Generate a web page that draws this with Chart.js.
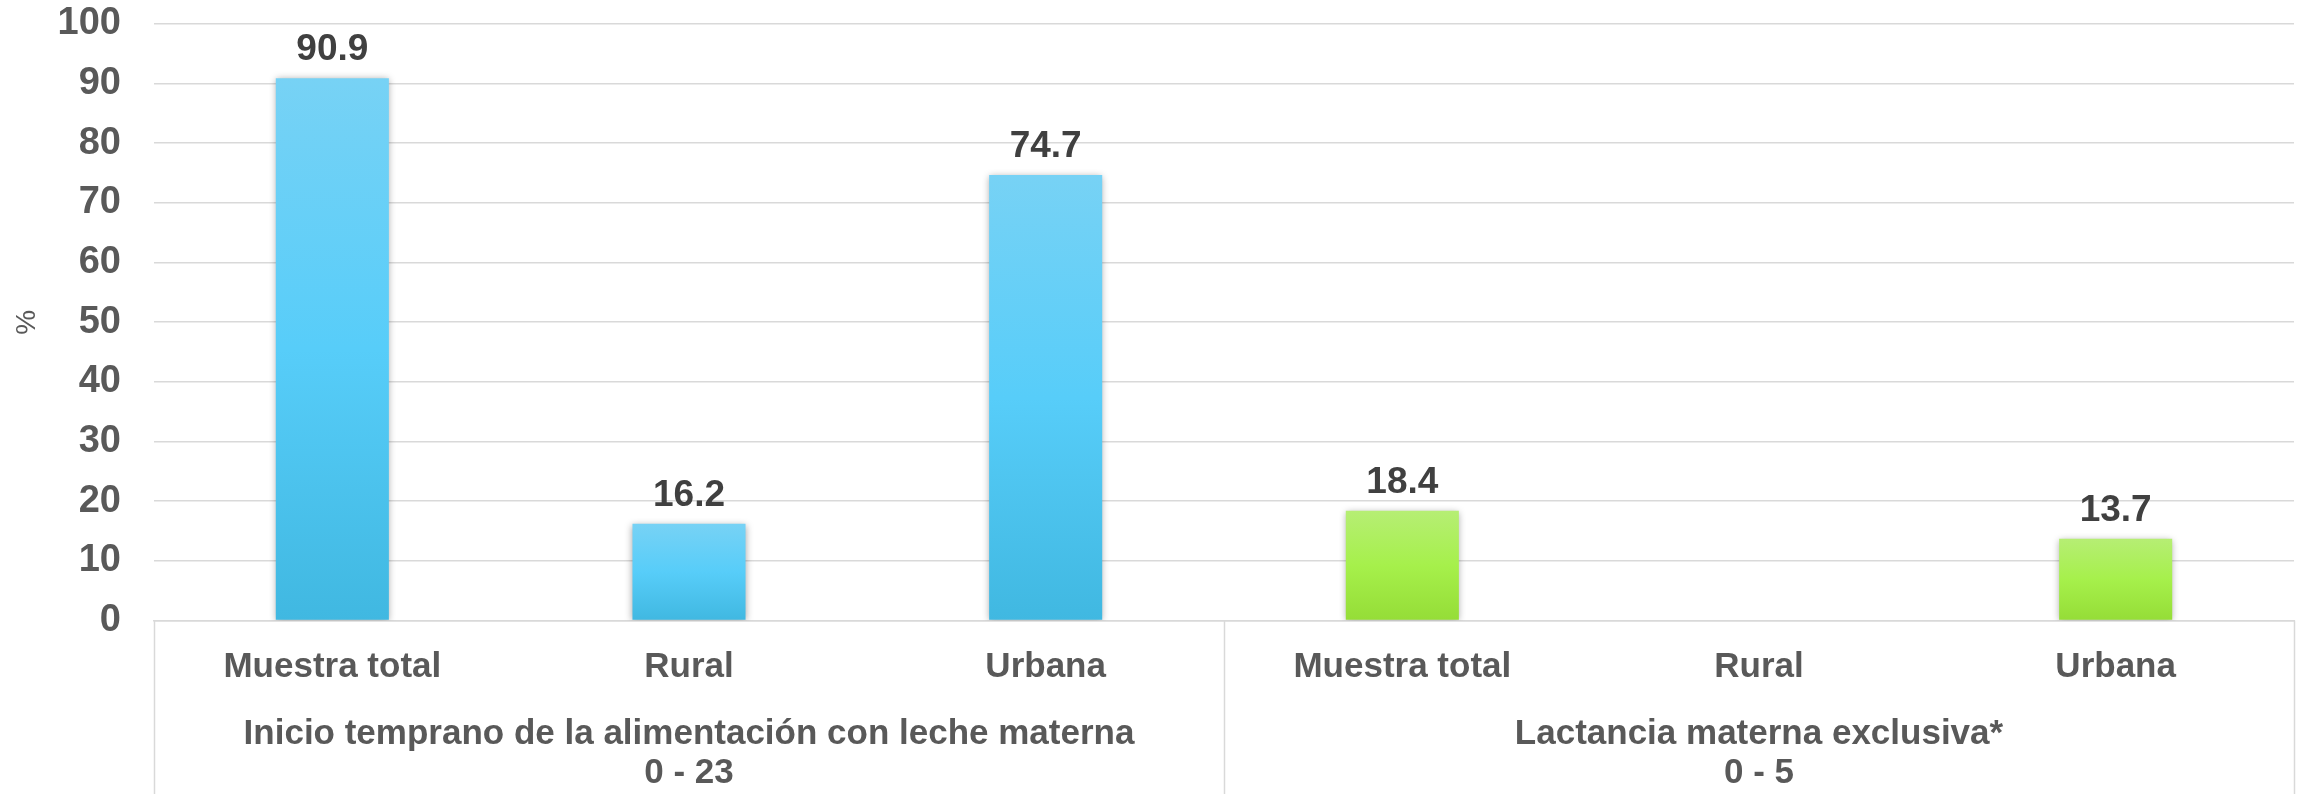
<!DOCTYPE html>
<html><head><meta charset="utf-8">
<script src="https://cdn.jsdelivr.net/npm/chart.js@4/dist/chart.umd.min.js"></script>
<style>html,body{margin:0;padding:0;background:#fff}#wrap{width:2308px;height:794px}</style>
</head><body><div id="wrap"><canvas id="c" width="2308" height="794"></canvas></div>
<script>
// ---- data ----
const categories = ['Muestra total', 'Rural', 'Urbana', 'Muestra total', 'Rural', 'Urbana'];
const values = [90.9, 16.2, 74.7, 18.4, null, 13.7];
const groupOfCategory = [0, 0, 0, 1, 1, 1];
const groupLabels = [
  ['Inicio temprano de la alimentación con leche materna', '0 - 23'],
  ['Lactancia materna exclusiva*', '0 - 5']
];
const yAxisTitle = '%';

// ---- styles ----
const FONT = "'Liberation Sans', Arial, sans-serif";
const GRAY = '#595959';
const GRID = '#d9d9d9';
const gradStops = [
  ['#77d2f5', '#57cdf9', '#40b8e1'],
  ['#b6ee74', '#a6f04b', '#95dd37']
];

const barGradient = (ctx) => {
  const g = groupOfCategory[ctx.dataIndex] || 0;
  const stops = gradStops[g];
  const chart = ctx.chart;
  if (!chart.chartArea || ctx.type !== 'data' || ctx.raw == null) return stops[1];
  const y = chart.scales.y;
  const top = y.getPixelForValue(ctx.raw), bottom = y.getPixelForValue(0);
  const gr = chart.ctx.createLinearGradient(0, top, 0, bottom);
  gr.addColorStop(0, stops[0]);
  gr.addColorStop(0.5, stops[1]);
  gr.addColorStop(1, stops[2]);
  return gr;
};

const shadowPlugin = {
  id: 'barShadow',
  beforeDatasetDraw(chart) {
    const c = chart.ctx; c.save();
    c.shadowColor = 'rgba(0,0,0,0.35)'; c.shadowBlur = 7; c.shadowOffsetX = 0; c.shadowOffsetY = 1;
  },
  afterDatasetDraw(chart) { chart.ctx.restore(); }
};

const labelsPlugin = {
  id: 'valueLabels',
  afterDatasetsDraw(chart) {
    const c = chart.ctx;
    const meta = chart.getDatasetMeta(0);
    c.save();
    c.font = `bold 37px ${FONT}`;
    c.fillStyle = '#404040';
    c.textAlign = 'center';
    c.textBaseline = 'alphabetic';
    meta.data.forEach((el, i) => {
      const v = values[i];
      if (v == null) return;
      c.fillText(v.toFixed(1), el.x, el.y - 18);
    });
    c.restore();
  }
};

const groupPlugin = {
  id: 'groupAxis',
  afterDraw(chart) {
    const c = chart.ctx, x = chart.scales.x, bottom = chart.chartArea.bottom;
    c.save();
    c.strokeStyle = GRID; c.lineWidth = 1.5;
    const nGroups = groupLabels.length;
    const per = categories.length / nGroups;
    for (let g = 0; g <= nGroups; g++) {
      const px = Math.round(x.getPixelForValue(g * per - 0.5)) + 0.5;
      c.beginPath(); c.moveTo(px, bottom); c.lineTo(px, chart.height); c.stroke();
    }
    c.font = `bold 35px ${FONT}`;
    c.fillStyle = GRAY;
    c.textAlign = 'center';
    c.textBaseline = 'middle';
    groupLabels.forEach((lines, g) => {
      const cx = (x.getPixelForValue(g * per - 0.5) + x.getPixelForValue(g * per + per - 0.5)) / 2;
      lines.forEach((t, k) => c.fillText(t, cx, bottom + 114 + k * 39));
    });
    c.restore();
  }
};

new Chart(document.getElementById('c'), {
  type: 'bar',
  data: {
    labels: categories,
    datasets: [{
      data: values,
      backgroundColor: barGradient,
      borderWidth: 0,
      barPercentage: 0.317,
      categoryPercentage: 1
    }]
  },
  options: {
    responsive: false,
    animation: false,
    layout: { padding: { top: 24, right: 14, left: 0, bottom: 0 } },
    plugins: { legend: { display: false }, tooltip: { enabled: false } },
    scales: {
      y: {
        min: 0, max: 100,
        ticks: { stepSize: 10, color: GRAY, font: { family: FONT, size: 38, weight: 'bold' }, padding: 33 },
        grid: { color: GRID, lineWidth: 1.6, drawTicks: false },
        border: { display: false },
        title: { display: true, text: yAxisTitle, color: GRAY, font: { family: FONT, size: 28 }, padding: { top: 10, bottom: 0 } },
        afterFit(s) { s.width = 154; s.paddingTop = 0; s.paddingBottom = 0; }
      },
      x: {
        ticks: { color: GRAY, font: { family: FONT, size: 35, weight: 'bold' }, padding: 26, maxRotation: 0, autoSkip: false },
        grid: { display: false, drawTicks: false },
        border: { display: true, color: GRID, width: 1.6 },
        afterFit(s) { s.height = 173.5; s.paddingLeft = 0; s.paddingRight = 0; }
      }
    }
  },
  plugins: [shadowPlugin, labelsPlugin, groupPlugin]
});
</script>
</body></html>
